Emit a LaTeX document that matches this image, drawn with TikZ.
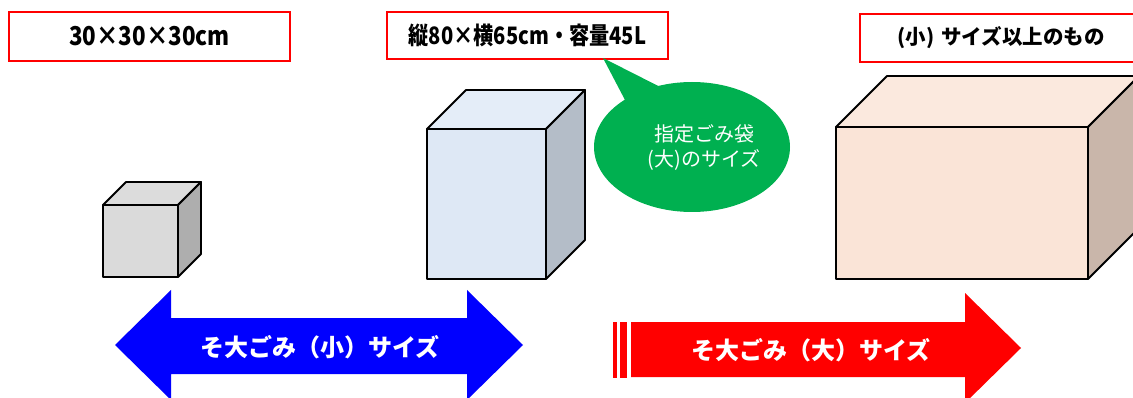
\documentclass[tikz,border=0pt]{standalone}
\usepackage{fontspec}
\newfontfamily\jp{Noto Sans CJK JP}
\usetikzlibrary{shapes.geometric}
\definecolor{grn}{HTML}{00B050}
\definecolor{smfront}{HTML}{DADADA}
\definecolor{smtop}{HTML}{DCDCDC}
\definecolor{smside}{HTML}{AEAEAE}
\definecolor{mdfront}{HTML}{DEE8F5}
\definecolor{mdtop}{HTML}{E4EDF8}
\definecolor{mdside}{HTML}{B4BDC8}
\definecolor{lgfront}{HTML}{FAE4D7}
\definecolor{lgtop}{HTML}{FBE9DE}
\definecolor{lgside}{HTML}{C9B6AA}
\definecolor{arrblue}{HTML}{0000FF}
\definecolor{arrred}{HTML}{FF0000}
% #1 x, #2 y (front top-left), #3 width, #4 height, #5 depth, #6 front, #7 top, #8 side
\newcommand\mycube[8]{%
  \draw[boxline, fill=#7] (#1,#2) -- ++(#5,-#5) -- ++(#3,0) -- ++(-#5,#5) -- cycle;
  \draw[boxline, fill=#8] (#1+#3,#2) -- ++(#5,-#5) -- ++(0,#4) -- ++(-#5,#5) -- cycle;
  \draw[boxline, fill=#6] (#1,#2) rectangle ++(#3,#4);
}
\begin{document}
\begin{tikzpicture}[x=1pt,y=-1pt,
  boxline/.style={draw=black, line width=1.8pt, line join=round},
  sizelabel/.style={draw=arrred, line width=2pt, fill=white, inner sep=0pt,
    font=\jp\bfseries\fontsize{20.5}{24}\selectfont},
  arrowtext/.style={text=white, inner sep=0pt, font=\jp\bfseries\fontsize{24}{28}\selectfont},
  bubbletext/.style={text=white, align=center, inner sep=0pt,
    font=\jp\fontsize{20}{25}\selectfont}]
\useasboundingbox (0,0) rectangle (1133,398);
\clip (0,0) rectangle (1133,398);

% size labels
\node[sizelabel, minimum width=281pt, minimum height=49pt] (lab1) at (149.5,36.5)
  {\fontsize{26}{30}\selectfont\scalebox{0.86}[1]{30×30×30cm}};
\node[sizelabel, minimum width=281pt, minimum height=47pt] (lab2) at (527.5,35.5)
  {\fontsize{24}{28}\selectfont\scalebox{0.84}[1]{縦80×横65cm・容量45L}};
\node[sizelabel, minimum width=282pt, minimum height=48pt] (lab3) at (1001,38)
  {(小)\hspace{7pt}サイズ以上のもの};

% cubes
\mycube{103}{205}{75}{72}{23}{smfront}{smtop}{smside}
\mycube{427}{129}{119}{150}{39}{mdfront}{mdtop}{mdside}
\mycube{836}{127}{252}{152}{51}{lgfront}{lgtop}{lgside}

% callout
\coordinate (tip) at (603,58);
\fill[grn] (tip) -- (680,97) -- (636,121) -- cycle;
\node[ellipse, fill=grn, minimum width=196pt, minimum height=130pt, inner sep=0pt] (bubble) at (692,147) {};
\node[bubbletext] (bubbletxt) at (704,148) {指定ごみ袋\\(大)のサイズ};

% blue double arrow
\fill[arrblue] (115,345) -- (171,290) -- (171,318) -- (467,318) -- (467,290)
  -- (523,345) -- (467,400) -- (467,374) -- (171,374) -- (171,400) -- cycle;
\node[arrowtext] (smalltxt) at (320,347) {そ大ごみ（小）サイズ};

% red striped arrow
\fill[arrred] (613,322) rectangle (617,378);
\fill[arrred] (620,322) rectangle (627,378);
\fill[arrred] (631,322) -- (965,322) -- (965,293) -- (1021,348) -- (965,403)
  -- (965,377) -- (631,377) -- cycle;
\node[arrowtext] (largetxt) at (811,350) {そ大ごみ（大）サイズ};
\end{tikzpicture}
\end{document}
